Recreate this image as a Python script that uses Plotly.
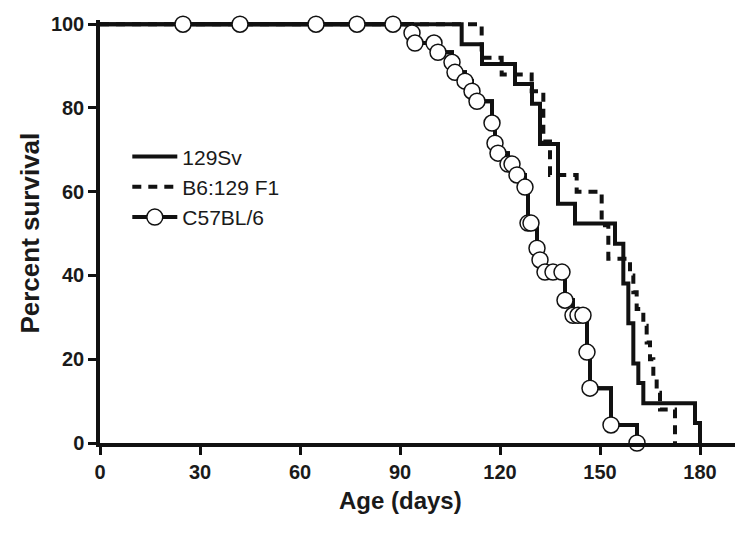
import plotly.graph_objects as go

# 129Sv (solid)
sv_days = [0, 108.5, 114.6, 124.5, 129.6, 132, 137.4, 142.5, 154.5, 157, 158.5, 160, 161.5, 163, 178.5, 180]
sv_pct = [100, 95.2, 90.5, 85.7, 81.0, 71.4, 57.1, 52.4, 47.6, 38.1, 28.6, 19.0, 14.3, 9.5, 4.8, 0]

# B6:129 F1 (dashed)
b6_days = [0, 114.5, 120.5, 129.5, 133, 135, 143, 150.5, 152.5, 159, 160, 161, 163, 164, 165, 166, 167, 168, 172.5]
b6_pct = [100, 92, 88, 84, 72, 64, 60, 52, 44, 40, 36, 32, 28, 24, 20, 16, 12, 8, 0]

# C57BL/6 (circles)
c57_days = [24.9, 42.0, 64.8, 77.1, 87.9, 93.6, 94.5, 100.2, 101.4, 105.6, 106.5, 109.5, 111.6, 113.1,
            117.6, 118.5, 119.4, 122.4, 123.6, 125.1, 127.5, 128.4, 129.3, 131.1, 132.0, 133.5, 135.9,
            138.6, 139.5, 141.9, 143.4, 144.9, 146.1, 147.0, 153.3, 161.1]
c57_pct = [100, 100, 100, 100, 100, 97.9, 95.5, 95.5, 93.3, 90.9, 88.5, 86.4, 84.0, 81.6,
           76.4, 71.6, 69.2, 66.6, 66.6, 64.0, 61.1, 52.5, 52.5, 46.5, 43.7, 40.8, 40.8,
           40.8, 34.1, 30.5, 30.5, 30.5, 21.7, 13.1, 4.3, 0]

x_ticks = [0, 30, 60, 90, 120, 150, 180]
y_ticks = [0, 20, 40, 60, 80, 100]

INK = "#111111"
TXT = "#1a1a1a"
FONT = "Liberation Sans, Arial, sans-serif"
LW = 4

fig = go.Figure()
fig.add_trace(go.Scatter(x=sv_days, y=sv_pct, mode="lines", line_shape="hv", name="129Sv",
                         line=dict(color=INK, width=LW), cliponaxis=False, legendgroup="a"))
fig.add_trace(go.Scatter(x=b6_days, y=b6_pct, mode="lines", line_shape="hv", name="B6:129 F1",
                         line=dict(color=INK, width=LW, dash="9px,7px"), cliponaxis=False, legendgroup="b"))
fig.add_trace(go.Scatter(x=[0] + c57_days, y=[100] + c57_pct, mode="lines", line_shape="hv",
                         line=dict(color=INK, width=LW), showlegend=False, cliponaxis=False, legendgroup="c"))
fig.add_trace(go.Scatter(x=c57_days, y=c57_pct, mode="lines+markers", line_shape="hv", name="C57BL/6",
                         line=dict(color=INK, width=LW),
                         marker=dict(symbol="circle", size=16, color="white", line=dict(color=INK, width=1.5)),
                         cliponaxis=False, legendgroup="c"))

axis_common = dict(ticks="outside", ticklen=8, tickwidth=3, tickcolor=INK, showline=True, linewidth=3.5,
                   linecolor=INK, showgrid=False, zeroline=False,
                   tickfont=dict(size=20, family=FONT, color=TXT, weight="bold"))

fig.update_layout(
    width=742, height=525,
    margin=dict(l=92, r=15, t=12, b=90, autoexpand=False),
    paper_bgcolor="white", plot_bgcolor="white",
    font=dict(family=FONT, color=TXT),
    showlegend=True,
    legend=dict(x=0.043, y=0.725, xanchor="left", yanchor="top", bgcolor="rgba(0,0,0,0)",
                font=dict(size=21, color=TXT), tracegroupgap=6, traceorder="normal", itemwidth=45),
    xaxis=dict(range=[0, 190.5], tickvals=x_ticks, **axis_common),
    yaxis=dict(range=[0, 101], tickvals=y_ticks, **axis_common),
    annotations=[
        dict(text="Age (days)", xref="x", yref="paper", x=90, y=0, yanchor="middle", yshift=-57,
             showarrow=False, font=dict(size=24, family=FONT, color=TXT, weight="bold")),
        dict(text="Percent survival", xref="paper", yref="y", x=0, y=50, xanchor="center", xshift=-70,
             textangle=-90, showarrow=False, font=dict(size=26, family=FONT, color=TXT, weight="bold")),
    ],
)

fig.write_html("out.html")
